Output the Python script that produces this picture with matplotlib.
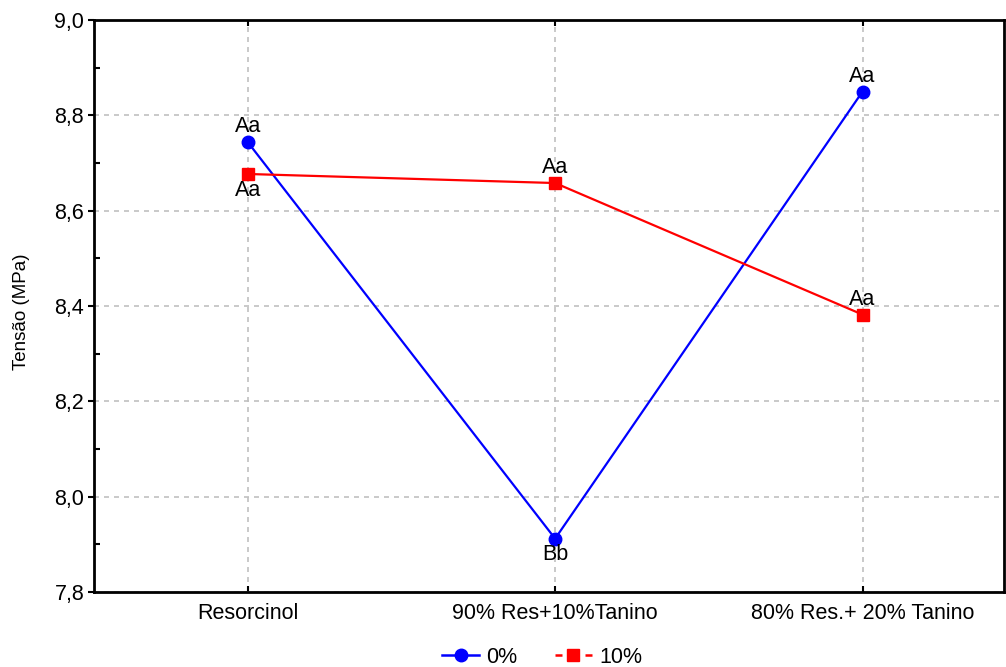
import numpy as np
import matplotlib.pyplot as plt
from matplotlib.lines import Line2D

plt.rcParams['font.family'] = ['Liberation Sans', 'DejaVu Sans']

categorias = ['Resorcinol', '90% Res+10%Tanino', '80% Res.+ 20% Tanino']
tensao_0 = [8.744, 7.912, 8.850]
tensao_10 = [8.677, 8.658, 8.382]
letras_0 = ['Aa', 'Bb', 'Aa']
letras_10 = ['Aa', 'Aa', 'Aa']
yticks = [7.8, 8.0, 8.2, 8.4, 8.6, 8.8, 9.0]

x = np.arange(len(categorias))
fs = 15.5

fig = plt.figure(figsize=(10.06, 6.67), dpi=100)
ax = fig.add_axes([0.0934, 0.1124, 0.9046, 0.8576])

ax.plot(x, tensao_0, color='#0000ff', lw=1.6, marker='o', ms=9, zorder=3)
ax.plot(x, tensao_10, color='#ff0000', lw=1.6, marker='s', ms=9, zorder=3)

# letras acima / abaixo dos pontos
pos_0 = ['above', 'below', 'above']
pos_10 = ['below', 'above', 'above']
for xi, yi, t, p in zip(x, tensao_0, letras_0, pos_0):
    off = 0.010 if p == 'above' else -0.012
    ax.text(xi, yi + off, t, ha='center', va='bottom' if p == 'above' else 'top', fontsize=fs)
for xi, yi, t, p in zip(x, tensao_10, letras_10, pos_10):
    off = 0.010 if p == 'above' else -0.012
    ax.text(xi, yi + off, t, ha='center', va='bottom' if p == 'above' else 'top', fontsize=fs)

ax.set_xlim(-0.5, 2.46)
ax.set_ylim(7.8, 9.0)
ax.set_xticks(x)
ax.set_xticklabels(categorias, fontsize=fs)
ax.set_yticks(yticks)
ax.set_yticklabels([f'{v:.1f}'.replace('.', ',') for v in yticks], fontsize=fs)
ax.set_yticks(np.arange(7.9, 9.0, 0.2), minor=True)
ax.tick_params(axis='y', which='major', direction='out', length=4, width=1.5, pad=3)
ax.tick_params(axis='y', which='minor', direction='in', length=4, width=1.5)
ax.tick_params(axis='x', direction='in', length=4, width=1.5, top=True, pad=8)
ax.set_ylabel('Tensão (MPa)', fontsize=13.5)
ax.yaxis.set_label_coords(-0.07, 0.49)

ax.grid(True, which='major', color='#c0c0c0', ls=(0, (3, 3)), lw=1.2)
for s in ax.spines.values():
    s.set_linewidth(2)

handles = [
    Line2D([], [], color='#0000ff', lw=1.8, marker='o', ms=9),
    Line2D([], [], color='#ff0000', lw=1.8, ls=(0, (2.8, 9.2)), marker='s', ms=9),
]
fig.legend(handles, ['0%', '10%'], loc='lower center', bbox_to_anchor=(0.539, -0.03),
           ncol=2, frameon=False, fontsize=fs, handlelength=1.7, handletextpad=0.35,
           columnspacing=1.75)

fig.savefig('out.png', dpi=100)
